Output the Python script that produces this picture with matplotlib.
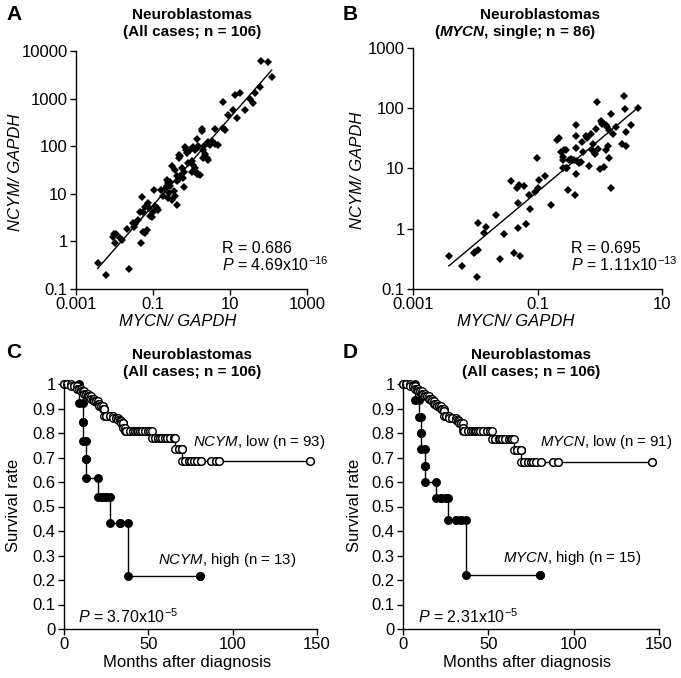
import numpy as np
import matplotlib
matplotlib.use("Agg")
import matplotlib.pyplot as plt
from matplotlib.ticker import FixedLocator, NullLocator, FixedFormatter

plt.rcParams['font.family'] = ['Liberation Sans', 'DejaVu Sans']
plt.rcParams['mathtext.fontset'] = 'custom'
plt.rcParams['mathtext.rm'] = 'Liberation Sans'
plt.rcParams['mathtext.it'] = 'Liberation Sans:italic'
plt.rcParams['mathtext.bf'] = 'Liberation Sans:italic:bold'

# ---- panel A: log10 MYCN/GAPDH vs log10 NCYM/GAPDH (all cases) ----
a_logx = [-2.437, -2.221, -1.615, -2.013, -1.961, -2.030, -1.996, -1.857, -1.814, -1.684,
          -1.528, -1.467, -1.381, -1.294, -1.338, -1.251, -1.208, -1.121, -1.320, -1.268,
          -1.208, -1.147, -1.078, -0.974, -0.948, -0.905, -0.870, -1.035, -0.801, -0.645,
          -0.602, -0.558, -0.628, -0.576, -0.602, -0.515, -0.428, -0.368, -0.498, -0.428,
          -0.368, -0.333, -0.333, -0.299, -0.316, -0.385, -0.299, -0.212, -0.195, -0.169,
          -0.143, -0.125, -0.082, 0.004, 0.091, -0.039, 0.030, 0.091, 0.134, 0.178,
          0.091, 0.134, 0.178, 0.221, 0.134, 0.264, 0.264, 0.351, 0.394, 0.437,
          0.437, 0.481, 0.610, 0.610, 0.827, 0.870, 0.818, 0.957, 1.087, 1.173,
          1.130, 1.260, 1.390, 1.520, 1.606, 1.649, 1.779, 1.797, 1.996, 2.082,
          0.307, 0.325, 0.050, -0.250, -0.450, -0.700, -1.000, 0.300, -0.200, 0.700,
          -0.550, -1.500, 0.000, -0.750, -1.100, 0.520]
a_logy = [-0.445, -0.705, -0.572, 0.165, 0.165, 0.088, -0.024, 0.067, 0.032, 0.264,
          0.383, 0.362, 0.453, 0.923, 0.628, 0.628, 0.720, 0.804, -0.038, 0.207,
          0.186, 0.243, 0.537, 1.071, 0.748, 0.699, 0.664, 0.523, 1.085, 1.295,
          1.225, 1.155, 1.169, 1.014, 0.909, 0.874, 0.944, 0.755, 1.590, 1.492,
          1.365, 1.316, 1.821, 1.800, 1.751, 1.260, 1.365, 1.330, 1.134, 1.976,
          1.913, 1.857, 1.646, 1.681, 1.541, 1.927, 1.983, 1.927, 1.962, 1.997,
          1.471, 1.421, 1.421, 1.400, 2.151, 2.362, 2.320, 1.843, 1.751, 1.702,
          2.081, 2.032, 2.053, 2.362, 2.383, 2.348, 2.930, 2.664, 2.769, 2.600,
          3.078, 3.120, 2.769, 3.000, 2.909, 3.120, 3.239, 3.786, 3.772, 3.457,
          1.927, 1.997, 1.600, 1.550, 1.050, 1.100, 0.620, 1.750, 1.450, 2.030,
          1.250, 0.300, 1.450, 0.950, 0.700, 2.100]

# ---- panel B: MYCN single-copy cases ----
b_logx = [-2.424, -2.216, -1.976, -2.013, -1.997, -1.960, -1.949, -1.864, -1.826, -1.666,
          -1.608, -1.533, -1.426, -1.384, -1.330, -1.320, -1.293, -1.277, -1.320, -1.213,
          -1.186, -1.133, -1.122, -1.037, -1.010, -1.000, -0.973, -0.877, -0.786, -0.680,
          -0.653, -0.626, -0.589, -0.573, -0.546, -0.589, -0.589, -0.546, -0.520, -0.504,
          -0.493, -0.466, -0.440, -0.413, -0.386, -0.386, -0.386, -0.386, -0.397, -0.370,
          -0.333, -0.306, -0.280, -0.269, -0.226, -0.200, -0.173, -0.146, -0.130, -0.104,
          -0.082, -0.066, -0.040, -0.024, -0.002, 0.014, 0.030, 0.040, 0.067, 0.094,
          0.104, 0.120, 0.136, 0.147, 0.147, 0.184, 0.184, 0.211, 0.254, 0.350,
          0.387, 0.403, 0.414, 0.414, 0.494, 0.616]
b_logy = [-0.452, -0.622, -0.793, -0.408, -0.380, -0.352, 0.088, -0.077, 0.022, 0.226,
          -0.501, -0.088, 0.788, -0.397, 0.683, 0.435, 0.722, -0.452, 0.006, 0.711,
          0.072, 0.557, 0.325, 0.612, 1.174, 0.678, 0.816, 0.876, 0.391, 1.466,
          1.504, 1.273, 1.190, 1.311, 1.311, 1.135, 1.014, 1.014, 1.014, 0.639,
          1.135, 1.163, 1.146, 1.135, 1.730, 1.532, 1.344, 0.904, 0.557, 1.124,
          1.091, 1.108, 1.438, 1.273, 1.532, 1.510, 1.036, 1.565, 1.311, 1.411,
          1.245, 1.659, 2.099, 1.322, 0.997, 1.796, 1.769, 1.741, 1.025, 1.300,
          1.714, 1.686, 1.367, 1.631, 1.174, 1.906, 0.678, 1.576, 1.697, 1.411,
          2.209, 1.989, 1.367, 1.603, 1.714, 2.000]

# ---- panel C: survival by NCYM expression ----
c_high_t = [0, 8.9, 11.5, 11.5, 13.0, 13.0, 20.0, 22.5, 25.0, 27.3, 33.0, 37.8, 80.7]
c_high_s = [1.0, 0.923, 0.846, 0.769, 0.692, 0.615, 0.538, 0.538, 0.538, 0.431, 0.431, 0.215, 0.215]
c_low_t = [0, 2, 4, 6, 8, 9, 10, 11, 12, 13, 14, 15, 16, 17, 18, 19, 20, 21, 22, 23,
           24, 24, 25, 27, 29, 31, 32, 33, 34, 35, 35, 36, 37, 39, 41, 42, 43, 44, 45, 46,
           48, 50, 51, 52, 54, 56, 57, 58, 60, 61, 63, 65, 66, 68, 70, 70, 72, 74, 75, 77,
           79, 81, 87, 90, 92, 146]
c_low_s = [1.0, 1.0, 0.99, 0.99, 0.98, 0.98, 0.97, 0.97, 0.96, 0.96, 0.95, 0.95, 0.94, 0.94, 0.93,
           0.93, 0.92, 0.91, 0.91, 0.90, 0.90, 0.87, 0.87, 0.87, 0.86, 0.86, 0.855, 0.85, 0.84, 0.84,
           0.82, 0.81, 0.81, 0.81, 0.81, 0.81, 0.81, 0.81, 0.81, 0.81, 0.81, 0.81, 0.81, 0.78, 0.78,
           0.78, 0.78, 0.78, 0.78, 0.78, 0.78, 0.78, 0.735, 0.735, 0.735, 0.685, 0.685, 0.685, 0.685,
           0.685, 0.685, 0.685, 0.685, 0.685, 0.685, 0.685]

# ---- panel D: survival by MYCN expression ----
d_high_t = [0, 6.8, 9.2, 10.7, 10.7, 12.7, 12.7, 19.5, 22.5, 25.0, 26.4, 31.3, 34.2, 37.1, 80.0]
d_high_s = [1.0, 0.933, 0.867, 0.80, 0.733, 0.667, 0.60, 0.533, 0.533, 0.533, 0.444, 0.444, 0.444, 0.222, 0.222]
d_low_t = [0, 2, 4, 6, 7, 8, 9, 10, 11, 12, 13, 14, 15, 16, 17, 18, 19, 20, 21, 22,
           23, 24, 24, 25, 27, 29, 31, 32, 33, 34, 35, 35, 36, 38, 40, 41, 42, 43, 44, 45,
           47, 49, 51, 52, 54, 56, 57, 58, 60, 62, 63, 64, 65, 67, 69, 69, 71, 73, 75, 76,
           78, 81, 88, 91, 146]
d_low_s = [1.0, 1.0, 0.99, 0.99, 0.98, 0.98, 0.97, 0.97, 0.96, 0.96, 0.95, 0.95, 0.94, 0.94, 0.93,
           0.92, 0.92, 0.91, 0.91, 0.90, 0.90, 0.89, 0.87, 0.87, 0.86, 0.86, 0.855, 0.85, 0.84, 0.84,
           0.82, 0.81, 0.81, 0.81, 0.81, 0.81, 0.81, 0.81, 0.81, 0.81, 0.81, 0.81, 0.81, 0.775, 0.775,
           0.775, 0.775, 0.775, 0.775, 0.775, 0.775, 0.775, 0.73, 0.73, 0.73, 0.68, 0.68, 0.68, 0.68,
           0.68, 0.68, 0.68, 0.68, 0.68, 0.68]

W, H = 681, 678
fig = plt.figure(figsize=(W / 100, H / 100), dpi=100)
FS = 12     # ticks, axis labels
TFS = 11    # titles
NFS = 11.5  # R / P notes
KFS = 10.8  # group notes on survival curves


def px_axes(x0, y0, x1, y1):
    # axes box from pixel corners (top-left origin)
    return fig.add_axes([x0 / W, 1 - y1 / H, (x1 - x0) / W, (y1 - y0) / H])


def ftext(x, y, s, **kw):
    kw.setdefault('fontsize', FS)
    fig.text(x / W, 1 - y / H, s, **kw)


def style(ax):
    for sp in ['top', 'right']:
        ax.spines[sp].set_visible(False)
    for sp in ['left', 'bottom']:
        ax.spines[sp].set_linewidth(1.0)
    ax.tick_params(direction='out', length=4, width=1.0, labelsize=FS, pad=2)


def scatter_panel(ax, lx, ly, xt, yt):
    x = 10 ** np.array(lx)
    y = 10 ** np.array(ly)
    ax.set_xscale('log')
    ax.set_yscale('log')
    ax.plot(x, y, linestyle='none', marker='D', ms=4.2, color='black', mew=0)
    k, b = np.polyfit(lx, ly, 1)
    xx = np.array([min(lx), max(lx)])
    ax.plot(10 ** xx, 10 ** (k * xx + b), color='black', lw=1.0)
    ax.set_xlim(xt[0], xt[-1])
    ax.set_ylim(yt[0], yt[-1])
    ax.xaxis.set_major_locator(FixedLocator(xt))
    ax.yaxis.set_major_locator(FixedLocator(yt))
    ax.xaxis.set_minor_locator(NullLocator())
    ax.yaxis.set_minor_locator(NullLocator())
    ax.xaxis.set_major_formatter(FixedFormatter([f'{v:g}' for v in xt]))
    ax.yaxis.set_major_formatter(FixedFormatter([f'{v:g}' for v in yt]))
    style(ax)


def km_xy(t, s):
    xs, ys = [t[0]], [s[0]]
    for i in range(1, len(t)):
        xs += [t[i], t[i]]
        ys += [s[i - 1], s[i]]
    return xs, ys


def km_panel(ax, ht, hs, lt, ls):
    hx, hy = km_xy(ht, hs)
    ax.plot(hx, hy, color='black', lw=1.0, marker='o', ms=5.4, mfc='black', mec='black',
            mew=1.0, clip_on=False)
    lx_, ly_ = km_xy(lt, ls)
    ax.plot(lx_, ly_, color='black', lw=1.0, marker='o', ms=5.4, mfc='white', mec='black',
            mew=1.0, clip_on=False)
    ax.set_xlim(0, 150)
    ax.set_ylim(0, 1)
    ax.set_xticks([0, 50, 100, 150])
    ax.set_yticks(np.round(np.arange(0, 1.01, 0.1), 1))
    ax.set_yticklabels(['0'] + [f'{v:.1f}' for v in np.arange(0.1, 0.95, 0.1)] + ['1'])
    style(ax)


# A
axA = px_axes(76, 51, 307, 289)
scatter_panel(axA, a_logx, a_logy, [0.001, 0.1, 10, 1000], [0.1, 1, 10, 100, 1000, 10000])
ftext(6, 15, 'A', fontsize=15, fontweight='bold', va='center')
ftext(192, 15, 'Neuroblastomas', fontsize=TFS, fontweight='bold', ha='center', va='center')
ftext(192, 32, '(All cases; n = 106)', fontsize=TFS, fontweight='bold', ha='center', va='center')
ftext(222, 248, 'R = 0.686', fontsize=NFS, va='center')
ftext(222, 265, r'$\mathit{P}$ = 4.69x10$^{-16}$', fontsize=NFS, va='center')
ftext(178, 321, 'MYCN/ GAPDH', fontstyle='italic', ha='center', va='center')
ftext(16, 172, 'NCYM/ GAPDH', fontstyle='italic', ha='center', va='center', rotation=90)

# B
axB = px_axes(413, 48, 662, 289)
scatter_panel(axB, b_logx, b_logy, [0.001, 0.1, 10], [0.1, 1, 10, 100, 1000])
ftext(343, 15, 'B', fontsize=15, fontweight='bold', va='center')
ftext(540, 15, 'Neuroblastomas', fontsize=TFS, fontweight='bold', ha='center', va='center')
ftext(515, 32, r'($\mathbf{MYCN}$, single; n = 86)', fontsize=TFS, fontweight='bold',
      ha='center', va='center')
ftext(571, 248, 'R = 0.695', fontsize=NFS, va='center')
ftext(571, 265, r'$\mathit{P}$ = 1.11x10$^{-13}$', fontsize=NFS, va='center')
ftext(516, 321, 'MYCN/ GAPDH', fontstyle='italic', ha='center', va='center')
ftext(357, 170, 'NCYM/ GAPDH', fontstyle='italic', ha='center', va='center', rotation=90)

# C
axC = px_axes(64, 384, 317, 629)
km_panel(axC, c_high_t, c_high_s, c_low_t, c_low_s)
ftext(6, 352, 'C', fontsize=15, fontweight='bold', va='center')
ftext(192, 355, 'Neuroblastomas', fontsize=TFS, fontweight='bold', ha='center', va='center')
ftext(192, 372, '(All cases; n = 106)', fontsize=TFS, fontweight='bold', ha='center', va='center')
ftext(193, 442, r'$\mathit{NCYM}$, low (n = 93)', fontsize=KFS, va='center')
ftext(158, 560, r'$\mathit{NCYM}$, high (n = 13)', fontsize=KFS, va='center')
ftext(78, 617, r'$\mathit{P}$ = 3.70x10$^{-5}$', fontsize=NFS, va='center')
ftext(187, 663, 'Months after diagnosis', ha='center', va='center')
ftext(14, 505, 'Survival rate', ha='center', va='center', rotation=90)

# D
axD = px_axes(403, 384, 659, 629)
km_panel(axD, d_high_t, d_high_s, d_low_t, d_low_s)
ftext(343, 352, 'D', fontsize=15, fontweight='bold', va='center')
ftext(531, 355, 'Neuroblastomas', fontsize=TFS, fontweight='bold', ha='center', va='center')
ftext(531, 372, '(All cases; n = 106)', fontsize=TFS, fontweight='bold', ha='center', va='center')
ftext(540, 442, r'$\mathit{MYCN}$, low (n = 91)', fontsize=KFS, va='center')
ftext(503, 558, r'$\mathit{MYCN}$, high (n = 15)', fontsize=KFS, va='center')
ftext(418, 617, r'$\mathit{P}$ = 2.31x10$^{-5}$', fontsize=NFS, va='center')
ftext(527, 663, 'Months after diagnosis', ha='center', va='center')
ftext(354, 505, 'Survival rate', ha='center', va='center', rotation=90)

fig.savefig('out.png', dpi=100)
